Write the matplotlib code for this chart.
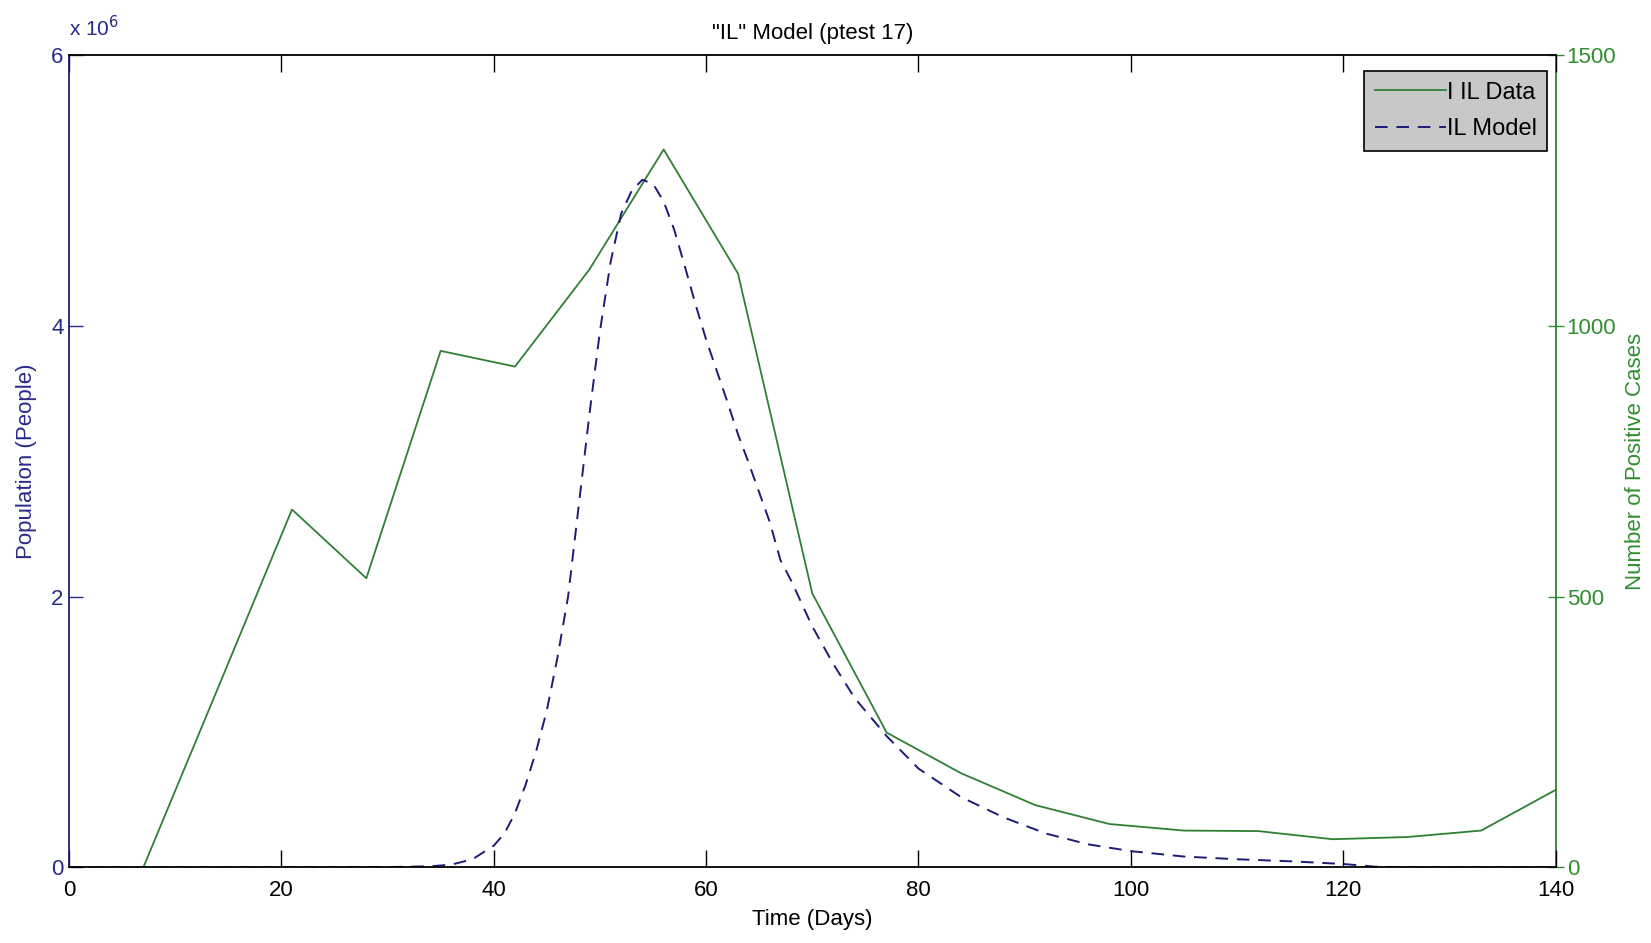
import matplotlib
matplotlib.use("Agg")
import matplotlib.pyplot as plt
from matplotlib.ticker import FuncFormatter
from matplotlib import font_manager

# ---- data ----
data_days = [7, 14, 21, 28, 35, 42, 49, 56, 63, 70, 77, 84, 91, 98, 105, 112, 119, 126, 133, 140]
data_cases = [0, 330, 661, 534, 954, 925, 1104, 1326, 1097, 506, 249, 174, 115, 80, 68, 67, 52, 56, 68, 143]

model_days = [0, 10, 20, 30, 34, 36, 38, 40, 41, 42, 43, 44, 45, 46, 47, 48, 49, 50, 51, 52,
              53, 54, 55, 56, 57, 58, 59, 60, 61, 62, 63, 64, 65, 66, 67, 68, 70, 72, 74,
              77, 80, 84, 88, 92, 96, 100, 105, 110, 115, 120, 123, 126, 140]
model_people = [0, 0, 0, 0.002e6, 0.008e6, 0.02e6, 0.06e6, 0.16e6, 0.25e6, 0.40e6, 0.61e6, 0.86e6,
                1.16e6, 1.55e6, 2.0e6, 2.67e6, 3.34e6, 3.96e6, 4.47e6, 4.83e6,
                5.0e6, 5.08e6, 5.05e6, 4.92e6, 4.71e6, 4.44e6, 4.16e6, 3.9e6, 3.67e6, 3.44e6,
                3.2e6, 2.99e6, 2.77e6, 2.55e6, 2.27e6, 2.12e6, 1.78e6, 1.5e6, 1.25e6,
                0.97e6, 0.73e6, 0.52e6, 0.37e6, 0.25e6, 0.17e6, 0.12e6, 0.08e6, 0.06e6,
                0.045e6, 0.025e6, 0.005e6, 0, 0]

x_ticks = [0, 20, 40, 60, 80, 100, 120, 140]
left_ticks = [0, 2e6, 4e6, 6e6]
right_ticks = [0, 500, 1000, 1500]

title = '"IL" Model (ptest 17)'
xlabel = 'Time (Days)'
ylabel_left = 'Population (People)'
ylabel_right = 'Number of Positive Cases'
legend_labels = ['I IL Data', 'IL Model']

# ---- style ----
names = {f.name for f in font_manager.fontManager.ttflist}
fam = ['Liberation Sans Narrow', 'DejaVu Sans'] if 'Liberation Sans Narrow' in names else ['Liberation Sans', 'DejaVu Sans']
plt.rcParams['font.family'] = fam
FS = 16

navy = '#1c1c78'
navy_txt = '#2a2a8a'
green = '#2f8034'
green_txt = '#2f8f2f'

fig = plt.figure(figsize=(16.51, 9.43), dpi=100)
ax = fig.add_axes([0.0418, 0.0802, 0.9004, 0.8612])
ax2 = ax.twinx()

ax.set_zorder(2)
ax.patch.set_visible(False)
ax2.set_zorder(1)

l2, = ax2.plot(data_days, data_cases, color=green, lw=1.3)
l1, = ax.plot(model_days, model_people, color=navy, lw=1.4, ls=(0, (6.5, 4.5)))

ax.set_xlim(0, 140)
ax.set_ylim(0, 6e6)
ax2.set_ylim(0, 1500)
ax.set_xticks(x_ticks)
ax.set_yticks(left_ticks)
ax2.set_yticks(right_ticks)
ax.yaxis.set_major_formatter(FuncFormatter(lambda v, p: f'{v/1e6:g}'))

ax.tick_params(axis='x', direction='in', length=12, width=1, top=True, labelsize=FS, pad=9, colors='black')
ax.tick_params(axis='y', direction='in', length=10, width=1, labelsize=FS, pad=4, colors=navy_txt)
ax2.tick_params(axis='y', direction='inout', length=12, width=1, labelsize=FS, pad=2, colors=green_txt)

for s in ['top', 'bottom']:
    ax.spines[s].set_color('black')
    ax2.spines[s].set_visible(False)
ax.spines['left'].set_color(navy)
ax.spines['right'].set_visible(False)
ax2.spines['left'].set_visible(False)
ax2.spines['right'].set_color(green)
for s in ax.spines.values():
    s.set_linewidth(1.3)
ax2.spines['right'].set_linewidth(1.3)

ax.set_title(title, fontsize=FS, pad=12)
ax.set_xlabel(xlabel, fontsize=FS, labelpad=6)
ax.set_ylabel(ylabel_left, fontsize=FS, color=navy_txt, labelpad=10)
ax2.set_ylabel(ylabel_right, fontsize=FS, color=green_txt, labelpad=6)

ax.text(0.0, 1.018, r'x 10$^{6}$', transform=ax.transAxes, fontsize=FS - 1,
        color=navy_txt, ha='left', va='bottom')

leg = ax.legend([l2, l1], legend_labels, loc='upper right', fontsize=FS + 1,
                frameon=True, fancybox=False, facecolor='#c8c8c8', edgecolor='black',
                framealpha=1, handlelength=3.0, handletextpad=0.05, borderpad=0.45,
                labelspacing=0.6, bbox_to_anchor=(1.0025, 0.995))
leg.get_frame().set_linewidth(1.2)

fig.savefig('out.png', dpi=100)
